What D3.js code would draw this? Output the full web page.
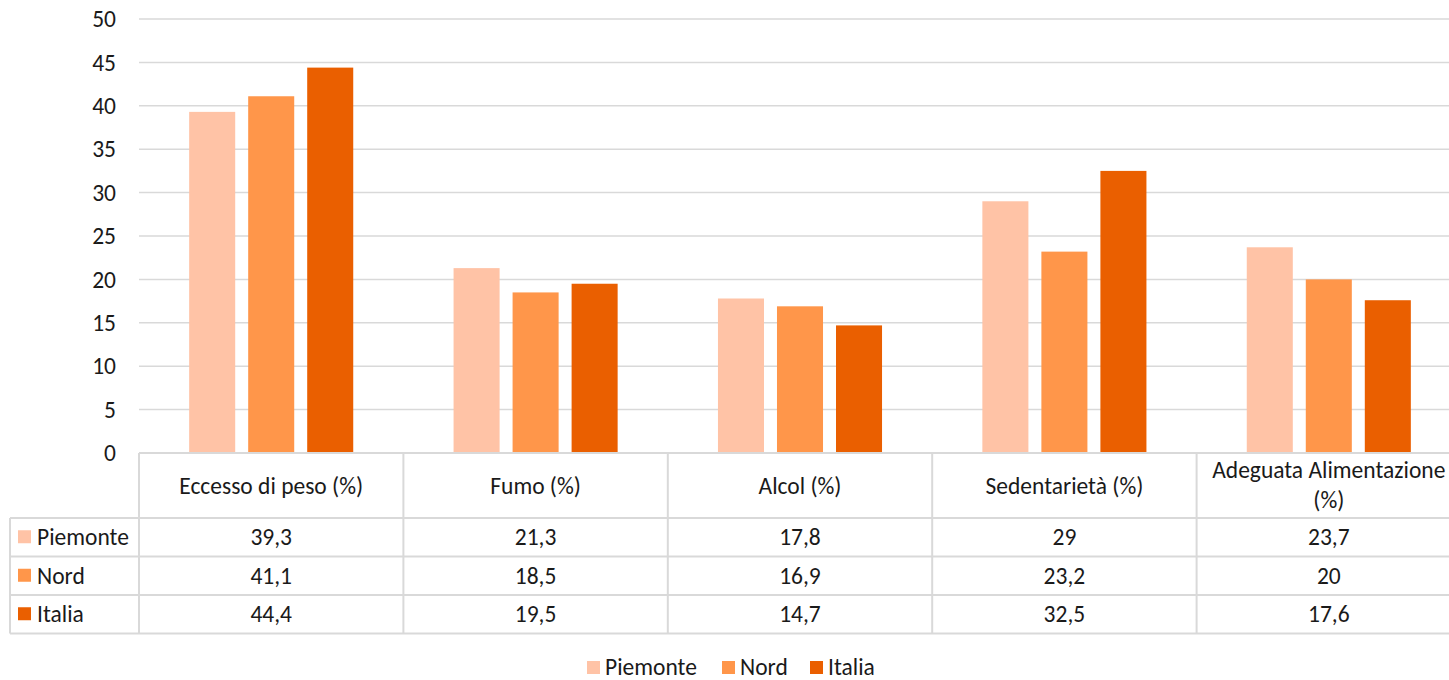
<!DOCTYPE html>
<html>
<head>
<meta charset="utf-8">
<script src="https://cdn.jsdelivr.net/npm/d3@7"></script>
<style>
  body { margin: 0; background: #fff; }
  text { font-family: Carlito, "Open Sans", "Noto Sans", sans-serif; fill: #1a1a1a; }
</style>
</head>
<body>
<svg id="chart" width="1449" height="680"></svg>
<script>
// data
var categories = ["Eccesso di peso (%)", "Fumo (%)", "Alcol (%)", "Sedentarietà (%)", "Adeguata Alimentazione (%)"];
var seriesNames = ["Piemonte", "Nord", "Italia"];
var piemonte = [39.3, 21.3, 17.8, 29, 23.7];
var nord = [41.1, 18.5, 16.9, 23.2, 20];
var italia = [44.4, 19.5, 14.7, 32.5, 17.6];
var yTicks = [0, 5, 10, 15, 20, 25, 30, 35, 40, 45, 50];

var colors = ["#FFC3A6", "#FF964A", "#EA5F00"];
var values = [piemonte, nord, italia];

var svg = d3.select("#chart");
var plotL = 139, plotR = 1461, plotT = 19, plotB = 453;
var rowH = [65, 38.5, 38.5, 38.5];
var fs = "23.5px";

var x = d3.scaleBand().domain(categories).range([plotL, plotR]);
var xs = d3.scaleBand().domain(seriesNames).range([0, x.bandwidth()]).paddingInner(0.22).paddingOuter(0.85);
var y = d3.scaleLinear().domain([0, 50]).range([plotB, plotT]);

var fmt = function (v) { return String(v).replace(".", ","); };
var grid = "#d9d9d9";

// gridlines
svg.append("g").selectAll("line").data(yTicks.slice(1)).enter().append("line")
    .attr("x1", plotL).attr("x2", plotR)
    .attr("y1", function (d) { return y(d); }).attr("y2", function (d) { return y(d); })
    .attr("stroke", grid).attr("stroke-width", 1.5);

// y labels
svg.append("g").selectAll("text").data(yTicks).enter().append("text")
    .attr("x", 116).attr("y", function (d) { return y(d); })
    .attr("dy", "0.35em").attr("text-anchor", "end")
    .style("font-size", fs)
    .text(function (d) { return d; });

// bars
seriesNames.forEach(function (s, i) {
    svg.append("g").selectAll("rect").data(values[i]).enter().append("rect")
        .attr("x", function (d, j) { return x(categories[j]) + xs(s); })
        .attr("width", xs.bandwidth())
        .attr("y", function (d) { return y(d); })
        .attr("height", function (d) { return plotB - y(d); })
        .attr("fill", colors[i]);
});

// data table
var t = svg.append("g");
var rowY = [plotB];
rowH.forEach(function (h) { rowY.push(rowY[rowY.length - 1] + h); });

t.append("line").attr("x1", plotL).attr("x2", plotR).attr("y1", plotB).attr("y2", plotB)
    .attr("stroke", grid).attr("stroke-width", 2);
rowY.slice(1).forEach(function (yy) {
    t.append("line").attr("x1", 10).attr("x2", plotR).attr("y1", yy).attr("y2", yy)
        .attr("stroke", grid).attr("stroke-width", 2);
});
t.append("line").attr("x1", 10).attr("x2", 10).attr("y1", rowY[1]).attr("y2", rowY[4])
    .attr("stroke", grid).attr("stroke-width", 2);
categories.forEach(function (c) {
    t.append("line").attr("x1", x(c)).attr("x2", x(c)).attr("y1", plotB).attr("y2", rowY[4])
        .attr("stroke", grid).attr("stroke-width", 2);
});

// header labels
categories.forEach(function (c) {
    var cx = x(c) + x.bandwidth() / 2;
    var label = t.append("text").attr("text-anchor", "middle").style("font-size", fs);
    if (c === "Adeguata Alimentazione (%)") {
        label.append("tspan").attr("x", cx).attr("y", 470).attr("dy", "0.35em").text("Adeguata Alimentazione");
        label.append("tspan").attr("x", cx).attr("y", 500).attr("dy", "0.35em").text("(%)");
    } else {
        label.attr("x", cx).attr("y", (rowY[0] + rowY[1]) / 2).attr("dy", "0.35em").text(c);
    }
});

// rows
seriesNames.forEach(function (s, i) {
    var cy = (rowY[i + 1] + rowY[i + 2]) / 2;
    t.append("rect").attr("x", 18).attr("y", cy - 7).attr("width", 13).attr("height", 13).attr("fill", colors[i]);
    t.append("text").attr("x", 37).attr("y", cy).attr("dy", "0.35em").style("font-size", fs).text(s);
    values[i].forEach(function (v, j) {
        t.append("text").attr("x", x(categories[j]) + x.bandwidth() / 2).attr("y", cy)
            .attr("dy", "0.35em").attr("text-anchor", "middle").style("font-size", fs)
            .text(fmt(v));
    });
});

// legend
var legX = [587, 722, 810];
var lg = svg.append("g");
seriesNames.forEach(function (s, i) {
    lg.append("rect").attr("x", legX[i]).attr("y", 661).attr("width", 13).attr("height", 13).attr("fill", colors[i]);
    lg.append("text").attr("x", legX[i] + 18).attr("y", 667).attr("dy", "0.35em")
        .style("font-size", fs).text(s);
});
</script>
</body>
</html>
